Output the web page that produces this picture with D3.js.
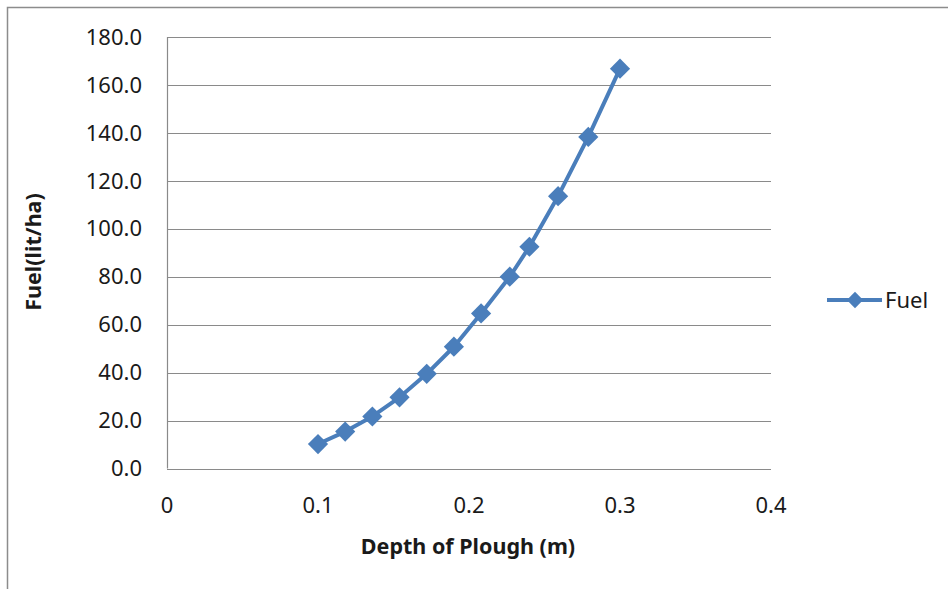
<!DOCTYPE html>
<html><head><meta charset="utf-8">
<script src="https://cdn.jsdelivr.net/npm/d3@7"></script>
<style>body{margin:0;background:#fff}svg{display:block}text{font-family:"Noto Sans",sans-serif;fill:#1a1a1a}</style>
</head><body>
<svg id="c" width="948" height="589"></svg>
<script>
const depth = [0.1, 0.118, 0.136, 0.154, 0.172, 0.19, 0.208, 0.227, 0.24, 0.259, 0.279, 0.3];
const fuel  = [10.2, 15.4, 21.7, 29.7, 39.5, 50.8, 64.7, 80.0, 92.5, 113.6, 138.3, 166.8];
const xTicks = [0, 0.1, 0.2, 0.3, 0.4];
const yTicks = [0, 20, 40, 60, 80, 100, 120, 140, 160, 180];
const seriesName = "Fuel";
const xTitle = "Depth of Plough (m)";
const yTitle = "Fuel(lit/ha)";

const svg = d3.select("#c");
const color = "#4a7ebb";
svg.append("rect").attr("x",7.5).attr("y",7.5).attr("width",1000).attr("height",1000)
  .attr("fill","none").attr("stroke","#8c8c8c").attr("stroke-width",1.5);

const x = d3.scaleLinear().domain([0,0.4]).range([167,771]);
const y = d3.scaleLinear().domain([0,180]).range([468.5,37]);

const g = svg.append("g");
g.selectAll("line.grid").data(yTicks).join("line").attr("class","grid")
  .attr("x1",x(0)).attr("x2",x(0.4)).attr("y1",d=>Math.round(y(d))+0.5).attr("y2",d=>Math.round(y(d))+0.5)
  .attr("stroke","#8a8a8a").attr("stroke-width",1.2);
g.append("line").attr("x1",x(0)+0.5).attr("x2",x(0)+0.5).attr("y1",y(180)).attr("y2",y(0))
  .attr("stroke","#8a8a8a").attr("stroke-width",1.2);

g.selectAll("text.yt").data(yTicks).join("text").attr("class","yt")
  .attr("x",142).attr("y",d=>y(d)).attr("dy","0.35em").attr("text-anchor","end")
  .attr("font-size",22).text(d=>d3.format(".1f")(d));
g.selectAll("text.xt").data(xTicks).join("text").attr("class","xt")
  .attr("x",d=>x(d)).attr("y",505).attr("dy","0.35em").attr("text-anchor","middle")
  .attr("font-size",22).text(d=>d===0?"0":d3.format(".1f")(d));

svg.append("text").attr("x",468).attr("y",546).attr("dy","0.35em").attr("text-anchor","middle")
  .attr("font-size",21.5).attr("font-weight","bold").text(xTitle);
svg.append("text").attr("transform","translate(33,252) rotate(-90)").attr("dy","0.35em")
  .attr("text-anchor","middle").attr("font-size",21.5).attr("font-weight","bold").text(yTitle);

const pts = depth.map((d,i)=>[d,fuel[i]]);
g.append("path").attr("d",d3.line().x(d=>x(d[0])).y(d=>y(d[1]))(pts))
  .attr("fill","none").attr("stroke",color).attr("stroke-width",4).attr("stroke-linejoin","round");
const diamond = d3.symbol().type(d3.symbolDiamond2).size(260);
g.selectAll("path.m").data(pts).join("path").attr("class","m")
  .attr("transform",d=>`translate(${x(d[0])},${y(d[1])})`).attr("d",diamond).attr("fill",color);

const lg = svg.append("g");
lg.append("line").attr("x1",827).attr("x2",882).attr("y1",300).attr("y2",300).attr("stroke",color).attr("stroke-width",4);
lg.append("path").attr("transform","translate(855,300)").attr("d",d3.symbol().type(d3.symbolDiamond2).size(170)).attr("fill",color);
lg.append("text").attr("x",885).attr("y",300).attr("dy","0.35em").attr("font-size",22).text(seriesName);
</script>
</body></html>
